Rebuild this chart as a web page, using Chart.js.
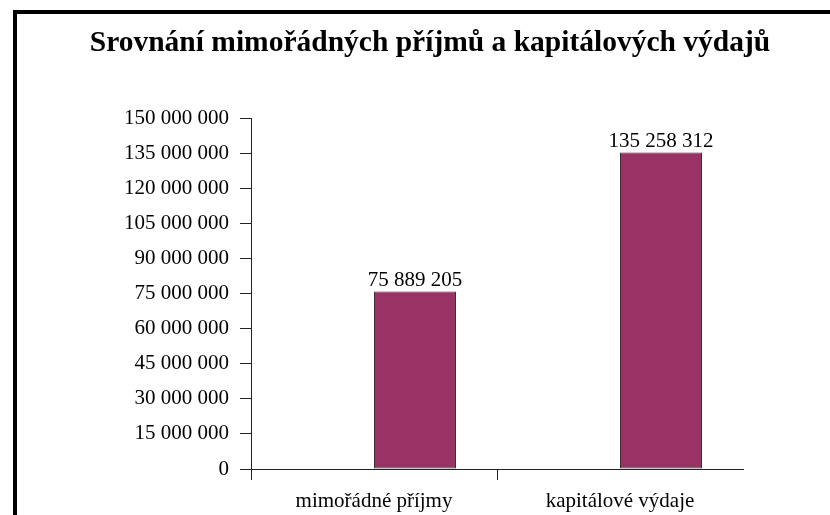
<!DOCTYPE html>
<html>
<head>
<meta charset="utf-8">
<script src="https://cdn.jsdelivr.net/npm/chart.js@4/dist/chart.umd.min.js"></script>
<style>
  html, body { margin: 0; padding: 0; background: #fff; overflow: hidden; }
  #wrap { position: relative; width: 830px; height: 515px; }
  #frame {
    position: absolute; left: 13px; top: 10px;
    width: 900px; height: 600px;
    border: 4px solid #000; box-sizing: border-box;
  }
  canvas { position: absolute; left: 0; top: 0; }
</style>
</head>
<body>
<div id="wrap">
  <canvas id="canvas" width="830" height="515"></canvas>
  <div id="frame"></div>
</div>
<script>
const titulo = "Srovnání mimořádných příjmů a kapitálových výdajů";
const categorias = ["mimořádné příjmy", "kapitálové výdaje"];
const valores = [75889205, 135258312];
// empty first series, so the bars sit in the right half of each category
const serieVacia = [null, null];
const yMin = 0;
const yMax = 150000000;
const yStep = 15000000;

const fuente = "'Liberation Serif', 'Times New Roman', serif";

// 75889205 -> "75 889 205"
function formatNumber(n) {
  return String(Math.round(n)).replace(/\B(?=(\d{3})+(?!\d))/g, " ");
}

// title centred on the whole frame, not only on the plot
const tituloCentrado = {
  id: "tituloCentrado",
  afterDraw(chart) {
    const ctx = chart.ctx;
    ctx.save();
    ctx.font = "bold 29.5px " + fuente;
    ctx.fillStyle = "#000";
    ctx.textAlign = "center";
    ctx.textBaseline = "alphabetic";
    ctx.fillText(titulo, 430, 51);
    ctx.restore();
  },
};

// draws the value above each bar
const etiquetasValor = {
  id: "etiquetasValor",
  afterDatasetsDraw(chart) {
    const ctx = chart.ctx;
    const meta = chart.getDatasetMeta(1);
    ctx.save();
    ctx.font = "21px " + fuente;
    ctx.fillStyle = "#000";
    ctx.textAlign = "center";
    ctx.textBaseline = "alphabetic";
    meta.data.forEach((bar, i) => {
      ctx.fillText(formatNumber(valores[i]), bar.x, bar.y - 5);
    });
    ctx.restore();
  },
};

const grafico = document.getElementById("canvas");

new Chart(grafico, {
  type: "bar",
  data: {
    labels: categorias,
    datasets: [
      { data: serieVacia },
      {
        data: valores,
        backgroundColor: "#993366",
        borderColor: "#333",
        borderWidth: 1,
        borderSkipped: false,
      },
    ],
  },
  options: {
    responsive: false,
    animation: false,
    categoryPercentage: 2 / 3,
    barPercentage: 1,
    layout: { padding: { left: 0, right: 87, top: 118, bottom: 0 } },
    plugins: {
      legend: { display: false },
      tooltip: { enabled: false },
      title: { display: false },
    },
    scales: {
      x: {
        afterFit: (scale) => {
          scale.height = 46;
        },
        grid: {
          drawOnChartArea: false,
          tickLength: 11,
          // no tick mark at the right end of the axis
          color: (c) => (c.tick ? "#222" : "rgba(0,0,0,0)"),
        },
        border: { color: "#222", width: 1 },
        ticks: {
          color: "#000",
          padding: 9,
          maxRotation: 0,
          font: { family: fuente, size: 21, lineHeight: 1.2 },
        },
      },
      y: {
        min: yMin,
        max: yMax,
        afterFit: (scale) => {
          scale.width = 251;
        },
        grid: { drawOnChartArea: false, tickLength: 11, color: "#222" },
        border: { color: "#222", width: 1 },
        ticks: {
          stepSize: yStep,
          color: "#000",
          padding: 11,
          font: { family: fuente, size: 21, lineHeight: 1.2 },
          callback: (v) => formatNumber(v),
        },
      },
    },
  },
  plugins: [etiquetasValor, tituloCentrado],
});
</script>
</body>
</html>
